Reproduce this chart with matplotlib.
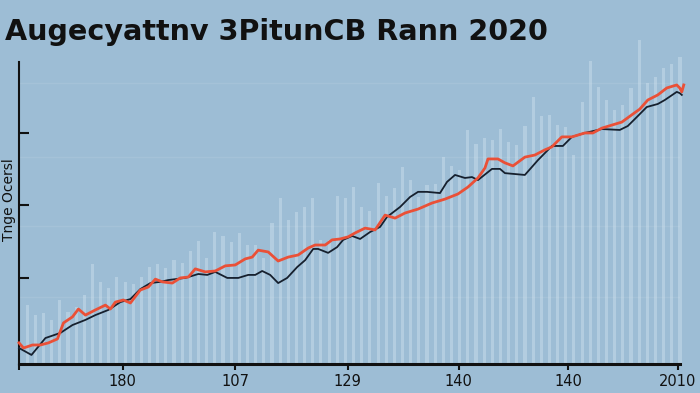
import numpy as np
import matplotlib as mpl
mpl.use('Agg')
import matplotlib.pyplot as plt

# 背景の棒 (1..81)
bar_vals = [19.5, 16.2, 16.9, 14.6, 21.2, 17.2, 18.9, 22.8, 33.1, 27.2,
            25.2, 28.8, 27.2, 26.5, 28.8, 32.1, 33.1, 31.8, 34.4, 33.4,
            37.4, 40.7, 35.1, 43.7, 42.4, 40.4, 43.4, 39.4, 39.4, 35.1,
            46.7, 55.0, 47.7, 50.3, 52.0, 55.0, 41.1, 41.1, 55.6, 55.0,
            58.6, 52.0, 50.7, 59.9, 55.6, 58.3, 65.2, 60.9, 55.3, 59.3,
            59.6, 68.5, 65.6, 64.2, 77.5, 72.8, 74.8, 74.2, 77.8, 73.5,
            72.5, 78.8, 88.4, 82.1, 82.5, 79.1, 78.5, 69.2, 86.8, 100.3,
            91.7, 87.4, 84.1, 85.8, 91.4, 107.3, 93.0, 95.0, 98.0, 99.3,
            101.7]
bar_x = np.arange(1, len(bar_vals) + 1)

# 黒線
black_x = [0.0, 1.53, 3.24, 5.08, 6.55, 8.14, 9.36, 10.95, 12.42, 13.65,
           14.87, 16.10, 17.32, 18.30, 20.38, 21.97, 23.07, 24.05, 25.52, 26.87,
           28.09, 28.95, 29.80, 30.78, 31.76, 32.86, 34.09, 35.07, 36.05, 36.66,
           37.88, 38.98, 39.72, 40.82, 41.80, 43.02, 44.25, 45.10, 46.70, 47.92,
           48.90, 50.00, 51.59, 52.45, 53.43, 54.65, 55.51, 56.24, 57.96, 58.94,
           59.55, 61.99, 63.59, 65.30, 66.65, 67.75, 69.34, 71.42, 73.62, 74.60,
           75.83, 76.93, 78.28, 79.13, 80.60, 80.97, 81.22]
black_y = [5.3, 3.0, 8.6, 10.3, 12.9, 14.6, 16.2, 17.9, 20.5, 21.5,
           24.8, 26.8, 27.2, 27.8, 28.5, 29.8, 29.5, 30.5, 28.5, 28.5,
           29.5, 29.5, 30.8, 29.5, 26.8, 28.5, 32.1, 34.4, 38.1, 38.1,
           36.8, 38.7, 41.1, 42.4, 41.4, 43.7, 45.4, 48.7, 52.0, 55.3,
           57.0, 57.0, 56.6, 60.3, 62.6, 61.6, 61.9, 60.9, 64.6, 64.6,
           63.2, 62.6, 67.5, 72.2, 72.2, 75.2, 76.5, 77.8, 77.5, 78.8,
           82.1, 85.1, 86.1, 87.4, 90.1, 89.7, 89.1]

# 赤線
red_x = [0.0, 0.55, 1.65, 2.63, 3.61, 4.71, 5.45, 6.55, 7.28, 8.14,
         9.36, 10.59, 11.20, 11.81, 12.79, 13.65, 14.87, 15.85, 16.71, 17.56,
         18.79, 19.77, 20.75, 21.60, 22.83, 24.05, 25.28, 26.50, 27.72, 28.58,
         29.31, 30.54, 31.76, 32.99, 34.21, 35.44, 36.29, 37.52, 38.37, 39.35,
         40.33, 41.19, 42.41, 43.64, 44.86, 46.08, 47.31, 48.90, 50.61, 52.20,
         53.79, 55.02, 56.24, 57.10, 57.47, 58.69, 59.55, 60.53, 61.99, 63.22,
         64.44, 65.30, 66.52, 67.75, 69.34, 70.32, 71.42, 72.64, 73.87, 75.09,
         76.07, 77.05, 78.28, 79.38, 80.60, 80.97, 81.22, 81.46]
red_y = [7.0, 5.3, 6.3, 6.3, 7.0, 8.3, 13.6, 15.6, 18.2, 16.2,
         17.9, 19.5, 18.2, 20.5, 21.2, 20.2, 24.5, 25.5, 28.1, 27.2,
         26.8, 28.5, 28.8, 31.5, 30.5, 30.8, 32.5, 32.8, 34.8, 35.4,
         37.7, 37.1, 34.1, 35.4, 36.1, 38.4, 39.4, 39.4, 41.1, 41.4,
         42.1, 43.4, 45.0, 44.4, 49.3, 48.3, 50.0, 51.3, 53.3, 54.6,
         56.3, 58.6, 61.6, 64.9, 67.9, 67.9, 66.6, 65.6, 68.5, 69.2,
         70.9, 71.9, 75.2, 75.2, 76.5, 76.5, 78.1, 79.1, 80.1, 82.5,
         84.4, 87.4, 89.1, 91.4, 92.4, 91.4, 90.1, 92.4]

xtick_pos = [0, 12.7, 26.5, 40.3, 53.9, 67.3, 80.7]
xtick_labels = ['', '180', '107', '129', '140', '140', '2010']
ytick_pos = [28.5, 52.6, 76.5]
grid_y = [22.2, 45.7, 68.5, 93.0]

bg = '#9dbdd5'
fig = plt.figure(figsize=(7, 3.93), dpi=100, facecolor=bg)
ax = fig.add_axes([19 / 700, 29 / 393, 661 / 700, 302 / 393])
ax.set_facecolor(bg)

for g in grid_y:
    ax.axhline(g, color='#b0cadd', lw=1.0, alpha=0.45, zorder=0)

ax.bar(bar_x, bar_vals, width=0.38, color='#d0e2ef', alpha=0.45,
       zorder=1, clip_on=False)
ax.plot(black_x, black_y, color='#16202e', lw=1.3, zorder=3, clip_on=False)
ax.plot(red_x, red_y, color='#ea5037', lw=2.0, zorder=4, clip_on=False)

ax.set_xlim(0, 81)
ax.set_ylim(0, 100)

for s in ['top', 'right']:
    ax.spines[s].set_visible(False)
ax.spines['left'].set_linewidth(1.5)
ax.spines['left'].set_color('#111111')
ax.spines['bottom'].set_linewidth(2.2)
ax.spines['bottom'].set_color('#111111')

ax.set_xticks(xtick_pos)
ax.set_xticklabels(xtick_labels, fontsize=10.5, color='#111111')
ax.tick_params(axis='x', direction='out', length=4, width=1.5, pad=3,
               color='#111111')
ax.set_yticks(ytick_pos)
ax.set_yticklabels([])
ax.tick_params(axis='y', direction='in', length=7, width=1.5, color='#111111')

# 軸の矢印
ax.plot([0], [100], marker='^', markersize=5, color='#111111',
        transform=ax.transAxes, clip_on=False)

fig.text(5 / 700, (393 - 40) / 393, 'Augecyattnv 3PitunCB Rann 2020',
         fontsize=20.6, fontweight='bold', color='#111111', va='baseline')
fig.text(9 / 700, (393 - 200) / 393, 'Tnge Ocersl', rotation=90,
         fontsize=10, color='#111111', ha='center', va='center')

plt.savefig('out.png', dpi=100, facecolor=bg)
